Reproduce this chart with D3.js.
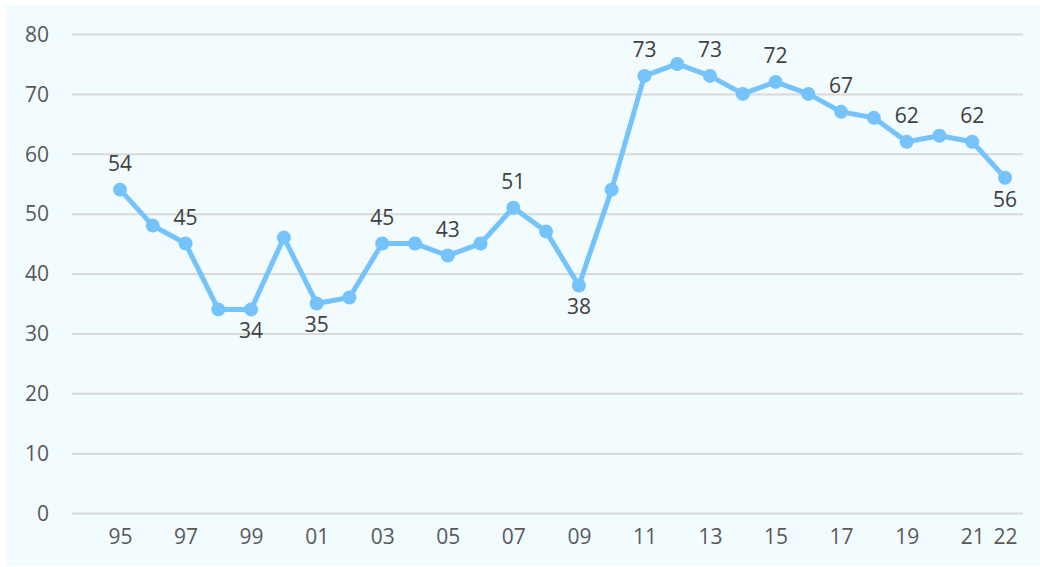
<!DOCTYPE html>
<html><head><meta charset="utf-8">
<script src="https://cdn.jsdelivr.net/npm/d3@7"></script>
<style>body{margin:0;background:#fff}svg{display:block}text{font-family:"Open Sans",sans-serif}</style>
</head><body><svg id="c" width="1040" height="567"></svg>
<script>
const years = [1995,1996,1997,1998,1999,2000,2001,2002,2003,2004,2005,2006,2007,2008,2009,2010,2011,2012,2013,2014,2015,2016,2017,2018,2019,2020,2021,2022];
const values = [54,48,45,34,34,46,35,36,45,45,43,45,51,47,38,54,73,75,73,70,72,70,67,66,62,63,62,56];
const xTickYears = [1995,1997,1999,2001,2003,2005,2007,2009,2011,2013,2015,2017,2019,2021,2022];
const yTicks = [0,10,20,30,40,50,60,70,80];
const labelAbove = [1995,1997,2003,2005,2007,2011,2013,2015,2017,2019,2021];
const labelBelow = [1999,2001,2009,2022];

const svg = d3.select("#c");
svg.append("rect").attr("x",6).attr("y",5).attr("width",1034).attr("height",561).attr("fill","#f2fbfe");
const x = d3.scaleLinear().domain([1995,2022]).range([120,1005]);
const y = d3.scaleLinear().domain([0,80]).range([513,34]);

const yAxis = svg.append("g").attr("transform","translate(72,0)")
  .call(d3.axisLeft(y).tickValues(yTicks).tickSize(-951).tickPadding(23).tickFormat(d3.format("d")));
yAxis.select(".domain").remove();
yAxis.selectAll("line").attr("stroke","#d9d9d9").attr("stroke-width",2);
yAxis.selectAll("text").attr("fill","#595959").style("font-size","21px").attr("dy","0.35em");

const xAxis = svg.append("g").attr("transform","translate(0,513)")
  .call(d3.axisBottom(x).tickValues(xTickYears).tickSize(0).tickPadding(16).tickFormat(d=>String(d%100).padStart(2,"0")));
xAxis.select(".domain").remove();
xAxis.selectAll("text").attr("fill","#595959").style("font-size","21px");

const data = years.map((yr,i)=>({yr,v:values[i]}));
svg.append("path").datum(data)
  .attr("d",d3.line().x(d=>x(d.yr)).y(d=>y(d.v)))
  .attr("fill","none").attr("stroke","#74c3fc").attr("stroke-width",5).attr("stroke-linejoin","round");
svg.selectAll("circle.pt").data(data).join("circle").attr("class","pt")
  .attr("cx",d=>x(d.yr)).attr("cy",d=>y(d.v)).attr("r",7).attr("fill","#74c3fc");

svg.selectAll("text.lab").data(data.filter(d=>labelAbove.includes(d.yr)||labelBelow.includes(d.yr))).join("text")
  .attr("class","lab")
  .attr("x",d=>x(d.yr))
  .attr("y",d=>labelAbove.includes(d.yr)? y(d.v)-18.5 : y(d.v)+29)
  .attr("text-anchor","middle").attr("fill","#404040").style("font-size","21px")
  .text(d=>d.v);
</script></body></html>
